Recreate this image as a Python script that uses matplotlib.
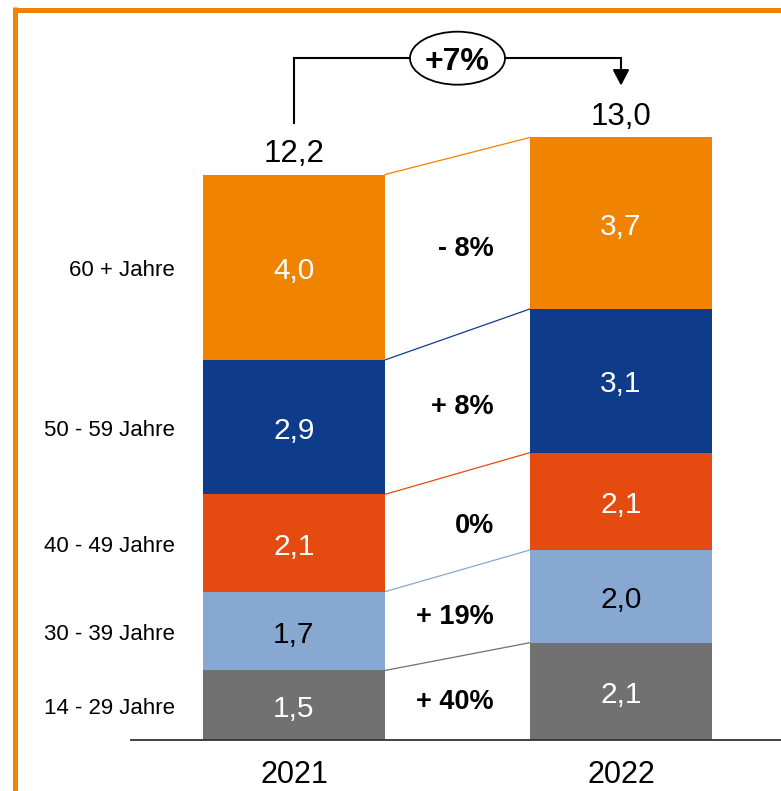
import matplotlib
matplotlib.use("Agg")
import matplotlib.pyplot as plt
from matplotlib.patches import Ellipse
from matplotlib.lines import Line2D

plt.rcParams['font.family'] = ['Liberation Sans', 'DejaVu Sans']

# Data (bottom to top)
years = ["2021", "2022"]
age_groups = ["14 - 29 Jahre", "30 - 39 Jahre", "40 - 49 Jahre", "50 - 59 Jahre", "60 + Jahre"]
values_2021 = [1.5, 1.7, 2.1, 2.9, 4.0]
values_2022 = [2.1, 2.0, 2.1, 3.1, 3.7]
changes = ["+ 40%", "+ 19%", "0%", "+ 8%", "- 8%"]
total_change = "+7%"

colors = ["#717171", "#87A8D1", "#E54A10", "#0F3C8A", "#F08300"]
text_colors = ["white", "black", "white", "white", "white"]

W, H = 781, 791
fig = plt.figure(figsize=(W / 100, H / 100), dpi=100)
ax = fig.add_axes([0, 0, 1, 1])
ax.set_axis_off()

# pixel layout -> data scale
px_per_x = 327.0
px_per_y = 46.35
x0_px, y0_px = 294.0, 740.0
ax.set_xlim(-x0_px / px_per_x, (W - x0_px) / px_per_x)
ax.set_ylim(-(H - y0_px) / px_per_y, y0_px / px_per_y)

# vertical nudge so centred digits sit on the optical centre
dy = -3.5 / px_per_y

bar_w = 182 / px_per_x
xs = [0, 1]
series = [values_2021, values_2022]

def fmt(v):
    return f"{v:.1f}".replace(".", ",")

bottoms_all = []
for x, vals in zip(xs, series):
    bottom = 0.0
    bottoms = []
    for v, c, tc in zip(vals, colors, text_colors):
        ax.bar(x, v, width=bar_w, bottom=bottom, color=c, edgecolor="none", zorder=2)
        ax.text(x, bottom + v / 2 + dy, fmt(v), ha="center", va="center",
                fontsize=21.5, color=tc, zorder=3)
        bottoms.append(bottom)
        bottom += v
    bottoms_all.append(bottoms)
    ax.text(x, bottom + 0.52 + dy, fmt(bottom), ha="center", va="center",
            fontsize=22.5, color="black")

# connector lines between segment tops
for i, c in enumerate(colors):
    y_a = bottoms_all[0][i] + values_2021[i]
    y_b = bottoms_all[1][i] + values_2022[i]
    ax.plot([xs[0] + bar_w / 2, xs[1] - bar_w / 2], [y_a, y_b], color=c, lw=0.9, zorder=1)

# age group labels and change labels
for i, name in enumerate(age_groups):
    mid_a = bottoms_all[0][i] + values_2021[i] / 2
    mid_b = bottoms_all[1][i] + values_2022[i] / 2
    ax.text(-0.364, mid_a + dy, name, ha="right", va="center", fontsize=16, color="black")
    ax.text(0.612, (mid_a + mid_b) / 2 + dy, changes[i], ha="right", va="center",
            fontsize=19.5, fontweight="bold", color="black")

# baseline
ax.plot([(131 - x0_px) / px_per_x, (W - x0_px) / px_per_x], [0, 0],
        color="#333333", lw=1.3, zorder=3)

# year labels
for x, yr in zip(xs, years):
    ax.text(x, -0.69 + dy, yr, ha="center", va="center", fontsize=22, color="black")

# growth bracket
tot_a = sum(values_2021)
tot_b = sum(values_2022)
y_br = 14.71
gap = 1.12
ell_w = 95 / px_per_x
ell_h = 53 / px_per_y
ax.plot([xs[0], xs[0], 0.5 - ell_w / 2], [tot_a + gap, y_br, y_br], color="black", lw=1.5,
        solid_joinstyle="miter")
ax.plot([0.5 + ell_w / 2, xs[1], xs[1]], [y_br, y_br, tot_b + gap + 0.25], color="black", lw=1.5,
        solid_joinstyle="miter")
ax.annotate("", xy=(xs[1], tot_b + gap), xytext=(xs[1], tot_b + gap + 0.4),
            arrowprops=dict(arrowstyle="-|>,head_length=0.95,head_width=0.5",
                            mutation_scale=10, lw=1.5, color="black",
                            shrinkA=0, shrinkB=0))
ax.add_patch(Ellipse((0.5, y_br), ell_w, ell_h, facecolor="white",
                     edgecolor="black", lw=1.3, zorder=4))
ax.text(0.5, y_br + dy, total_change, ha="center", va="center", fontsize=23,
        fontweight="bold", color="black", zorder=5)

# orange frame (top and left edges)
frame_c = "#F08300"
fig.add_artist(Line2D([15 / W, 1], [1 - 9.5 / H, 1 - 9.5 / H], color=frame_c, lw=3.6,
                      transform=fig.transFigure, solid_capstyle="butt"))
fig.add_artist(Line2D([15 / W, 15 / W], [0, 1 - 7 / H], color=frame_c, lw=3.6,
                      transform=fig.transFigure, solid_capstyle="butt"))

fig.savefig("out.png", dpi=100)
